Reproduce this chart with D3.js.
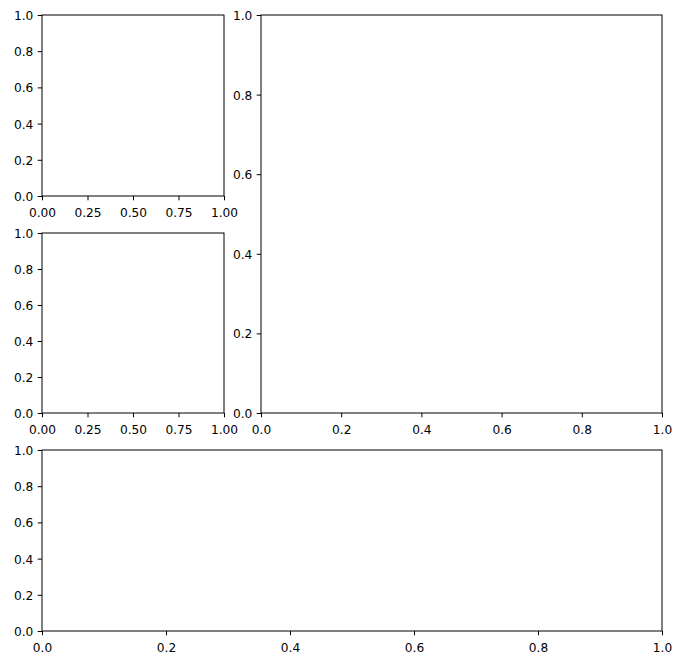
<!DOCTYPE html>
<html><head><meta charset="utf-8">
<script src="https://cdn.jsdelivr.net/npm/d3@7"></script>
<style>body{margin:0;background:#fff}svg{display:block}text{font-family:"DejaVu Sans",sans-serif}</style>
</head><body>
<script>
// Tick values for each panel (all axes are empty, range 0..1)
const smallXTicks = [0, 0.25, 0.5, 0.75, 1.0];
const smallYTicks = [0, 0.2, 0.4, 0.6, 0.8, 1.0];
const bigXTicks = [0, 0.2, 0.4, 0.6, 0.8, 1.0];
const bigYTicks = [0, 0.2, 0.4, 0.6, 0.8, 1.0];
const domain = [0, 1];

const W = 682, H = 665;
const FS = 12.2;
const svg = d3.select("body").append("svg").attr("width", W).attr("height", H);

const panels = [
  {x0: 42, x1: 224, y0: 15, y1: 196, xt: smallXTicks, yt: smallYTicks, xf: ".2f", yf: ".1f"},
  {x0: 42, x1: 224, y0: 233, y1: 413, xt: smallXTicks, yt: smallYTicks, xf: ".2f", yf: ".1f"},
  {x0: 261, x1: 662, y0: 15, y1: 413, xt: bigXTicks, yt: bigYTicks, xf: ".1f", yf: ".1f"},
  {x0: 42, x1: 662, y0: 450, y1: 631, xt: bigXTicks, yt: bigYTicks, xf: ".1f", yf: ".1f"}
];

panels.forEach(p => {
  const x = d3.scaleLinear().domain(domain).range([p.x0, p.x1]);
  const y = d3.scaleLinear().domain(domain).range([p.y1, p.y0]);
  const g = svg.append("g");
  g.append("rect").attr("x", p.x0).attr("y", p.y0).attr("width", p.x1 - p.x0).attr("height", p.y1 - p.y0)
    .attr("fill", "none").attr("stroke", "#000").attr("stroke-width", 1);
  const ax = g.append("g").attr("transform", `translate(0,${p.y1})`)
    .call(d3.axisBottom(x).tickValues(p.xt).tickFormat(d3.format(p.xf)).tickSize(4.3).tickSizeOuter(0).tickPadding(4));
  const ay = g.append("g").attr("transform", `translate(${p.x0},0)`)
    .call(d3.axisLeft(y).tickValues(p.yt).tickFormat(d3.format(p.yf)).tickSize(4.3).tickSizeOuter(0).tickPadding(4.4));
  [ax, ay].forEach(a => {
    a.select(".domain").remove();
    a.selectAll("line").attr("stroke", "#000").attr("stroke-width", 1);
    a.selectAll("text").attr("fill", "#000").style("font-size", FS + "px").style("font-family", "DejaVu Sans");
  });
  ax.selectAll("text").attr("y", 20.8).attr("dy", null);
  ay.selectAll("text").attr("dy", "0.36em");
});
</script>
</body></html>
